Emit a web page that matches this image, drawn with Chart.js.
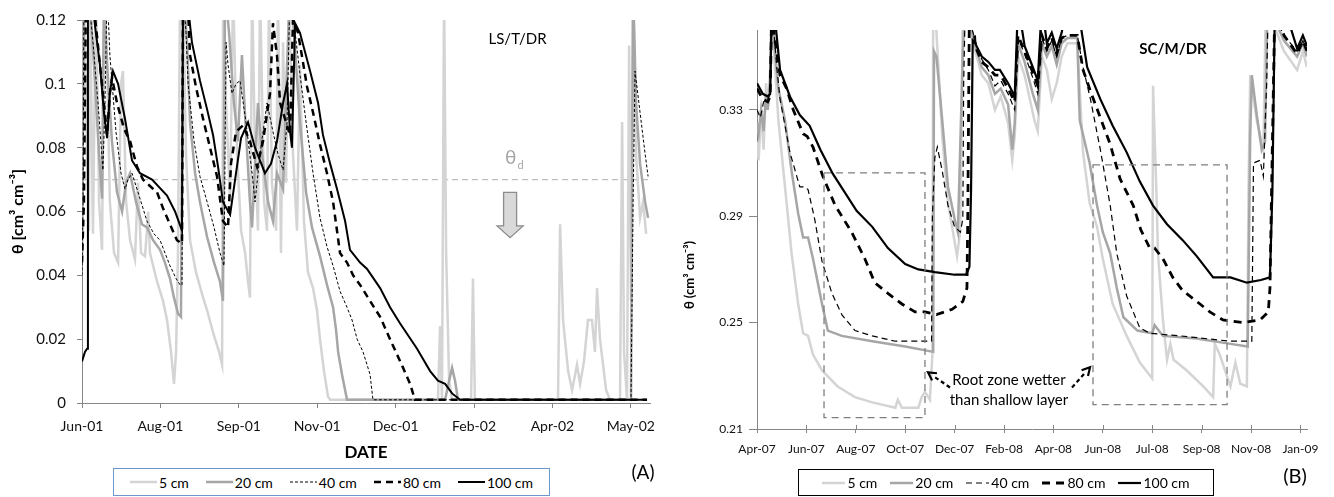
<!DOCTYPE html>
<html>
<head>
<meta charset="utf-8">
<script src="https://cdn.jsdelivr.net/npm/chart.js@4.4.1/dist/chart.umd.min.js"></script>
<style>
  body { margin: 0; background: #fff; width: 1334px; height: 497px; position: relative; overflow: hidden; }
  canvas { position: absolute; top: 0; }
  #chartA { left: 0; }
  #chartB { left: 677px; }
  .legend { position: absolute; box-sizing: border-box; display: flex; align-items: center; justify-content: center;
            font-family: Lato, "Open Sans", sans-serif; font-size: 14px; color: #000; background: #fff; }
  .legend .item { display: flex; align-items: center; }
  .legend svg { display: block; margin-right: 2px; }
</style>
</head>
<body>
<canvas id="chartA" width="670" height="497"></canvas>
<canvas id="chartB" width="657" height="497"></canvas>
<div id="legendA" class="legend" style="left:113px;top:468px;width:437px;height:28px;border:1px solid #6f97cf;"></div>
<div id="legendB" class="legend" style="left:798px;top:469px;width:416px;height:27px;border:1px solid #000;"></div>
<script>
const FONT = "Lato, 'Open Sans', sans-serif";
const DEPTHS = ["5 cm", "20 cm", "40 cm", "80 cm", "100 cm"];

// Panel A: x = days since Jun-01 (tick every 45 days), y = theta
const A_TICK_DAYS = [0, 45, 90, 135, 180, 225, 270, 315];
const A_TICK_LABELS = ["Jun-01", "Aug-01", "Sep-01", "Nov-01", "Dec-01", "Feb-02", "Apr-02", "May-02"];
const A_Y_TICKS = [0, 0.02, 0.04, 0.06, 0.08, 0.1, 0.12];
const A_THETA_D = 0.07;

const A_5CM = [[0,0.044],[1.1,0.13],[2.9,0.078],[4,0.054],[4.6,0.13],[6.3,0.053],[8,0.13],[9.8,0.063],[11.5,0.048],
  [12.6,0.116],[14.4,0.106],[16,0.063],[18.4,0.047],[20.7,0.044],[22.4,0.1],[23.5,0.104],[25.3,0.063],[27.6,0.051],
  [30.4,0.045],[32.1,0.069],[33.9,0.047],[36.2,0.046],[38,0.06],[39,0.047],[43.1,0.038],[46.5,0.032],[48.8,0.026],
  [51.1,0.016],[52.8,0.006],[54,0.016],[55.1,0.047],[56.3,0.13],[58,0.13],[59.7,0.078],[62,0.051],[65.4,0.041],
  [69.5,0.033],[71.8,0.029],[75.8,0.021],[78.7,0.016],[80.4,0.012],[81,0.13],[82.7,0.094],[85,0.063],[86.7,0.13],
  [89,0.078],[91.3,0.054],[93.6,0.047],[95.3,0.038],[96.4,0.033],[97.6,0.13],[99.3,0.078],[101,0.054],[102.2,0.13],
  [104.5,0.063],[106.2,0.054],[107.3,0.13],[109,0.069],[111.4,0.054],[112.5,0.13],[114.2,0.047],[115.4,0.113],
  [117.1,0.069],[118.8,0.13],[121.1,0.078],[123.4,0.054],[125.1,0.106],[127.4,0.057],[129.7,0.041],[132.6,0.036],
  [134.9,0.029],[136.6,0.02],[138.9,0.01],[141.2,0.002],[142.4,0.001],[204.3,0.001],[205.5,0.024],[206.6,0.001],
  [207.2,0.063],[207.8,0.13],[209,0.047],[210.7,0.007],[212.4,0.001],[223.3,0.001],[224.4,0.039],[225.5,0.001],
  [273.2,0.001],[274.4,0.056],[276.1,0.026],[279,0.01],[281.3,0.004],[284.1,0.012],[285.9,0.006],[288.1,0.013],
  [290.4,0.026],[292.7,0.026],[294.4,0.016],[295.6,0.036],[297.3,0.02],[300.8,0.004],[303.1,0.001],[308.8,0.001],
  [310,0.088],[311.1,0.016],[312.8,0.001],[314,0.112],[315.1,0.032],[316.3,0.13],[318,0.078],[320.3,0.058],
  [322,0.063],[323.8,0.053]];
const A_20CM = [[0,0.047],[1.1,0.13],[4,0.13],[6.9,0.106],[9.8,0.078],[11.5,0.064],[12.6,0.13],[14.4,0.106],
  [17.2,0.082],[20.1,0.066],[23,0.06],[25.3,0.069],[27.6,0.072],[31,0.063],[34.4,0.056],[37.3,0.055],[40.8,0.051],
  [44.8,0.048],[47.6,0.044],[50.5,0.039],[52.8,0.033],[55.1,0.028],[56.8,0.027],[58,0.13],[60.3,0.113],[62,0.088],
  [64.9,0.072],[67.7,0.063],[71.8,0.052],[75.8,0.044],[79.2,0.038],[80.9,0.032],[82.1,0.13],[84.4,0.116],
  [87.2,0.094],[89.5,0.082],[91.8,0.109],[94.1,0.085],[96.4,0.063],[97.6,0.055],[99.3,0.075],[101,0.094],
  [103.3,0.078],[106.8,0.063],[109.6,0.057],[111.9,0.072],[115.4,0.067],[117.7,0.106],[119.4,0.13],[121.7,0.116],
  [125.1,0.088],[128.6,0.066],[132,0.055],[136.6,0.046],[140.6,0.037],[144.1,0.03],[145.8,0.023],[147,0.016],
  [149.2,0.009],[152.1,0.001],[208.4,0.001],[210.7,0.007],[212.4,0.011],[214.1,0.007],[215.8,0.001],[315.1,0.001],
  [316.3,0.13],[318,0.094],[320.3,0.075],[323.2,0.063],[324.9,0.058]];
const A_40CM = [[0,0.04],[0.6,0.063],[1.1,0.13],[3.4,0.13],[6.3,0.113],[9.2,0.094],[12,0.073],[13.2,0.094],
  [14.4,0.13],[16,0.109],[19.5,0.085],[22.4,0.072],[24.7,0.067],[26.4,0.07],[28.7,0.072],[33.3,0.064],[37.3,0.057],
  [41.3,0.053],[44.8,0.051],[50.5,0.043],[54,0.039],[56.3,0.037],[57.4,0.037],[58,0.13],[59.7,0.116],[60.9,0.1],
  [64.3,0.082],[67.7,0.071],[71.8,0.063],[75.8,0.055],[79.2,0.047],[81.5,0.043],[82.7,0.113],[83.8,0.106],
  [86.1,0.097],[88.4,0.1],[90.7,0.101],[94.1,0.088],[97.6,0.072],[99.3,0.063],[102.2,0.078],[106.2,0.094],
  [109.6,0.085],[112.5,0.078],[115.4,0.073],[117.7,0.088],[119.4,0.13],[121.7,0.119],[125.1,0.103],[128.6,0.088],
  [132.6,0.072],[136.6,0.058],[140.6,0.049],[144.1,0.043],[148.1,0.035],[152.1,0.03],[155,0.026],[157.9,0.02],
  [161.3,0.016],[165.3,0.009],[167,0.001],[315.1,0.001],[316.3,0.063],[317.4,0.104],[320.3,0.091],[323.2,0.078],
  [324.9,0.071]];
const A_80CM = [[0,0.044],[1.1,0.063],[2.3,0.13],[5.7,0.13],[8.6,0.115],[12,0.097],[14.4,0.084],[16,0.097],
  [17.2,0.102],[20.1,0.094],[24.1,0.086],[27.6,0.082],[31.6,0.074],[35,0.07],[39,0.068],[43.1,0.066],[46.5,0.061],
  [50.5,0.056],[54.5,0.051],[57.4,0.05],[58,0.13],[60.3,0.13],[62,0.109],[65.4,0.099],[69.5,0.089],[73.5,0.08],
  [77.5,0.071],[80.9,0.057],[83.8,0.055],[85.5,0.075],[88.4,0.085],[92.4,0.087],[96.4,0.082],[100.5,0.074],
  [103.9,0.082],[107.9,0.097],[109.6,0.119],[111.9,0.109],[113.7,0.094],[117.1,0.088],[119.4,0.084],[121.1,0.12],
  [124,0.116],[129.2,0.099],[132.6,0.091],[136.6,0.081],[140.6,0.072],[144.1,0.063],[148.1,0.047],[152.1,0.044],
  [155.6,0.04],[159.6,0.037],[165.3,0.032],[171.1,0.027],[176.8,0.02],[184.3,0.011],[188.3,0.006],[191.1,0.001],
  [324.3,0.001]];
const A_100CM = [[0,0.013],[1.7,0.016],[2.9,0.017],[3.4,0.13],[5.2,0.13],[7.5,0.118],[10.3,0.106],[12.6,0.091],
  [14.4,0.083],[16,0.097],[17.8,0.104],[20.7,0.1],[24.7,0.089],[28.7,0.076],[33.3,0.072],[40.2,0.07],[48.8,0.065],
  [53.4,0.06],[57.4,0.054],[58,0.13],[59.7,0.13],[63.1,0.113],[67.7,0.101],[71.8,0.092],[75.2,0.084],[78.1,0.074],
  [80.9,0.063],[85,0.059],[88.4,0.072],[91.3,0.083],[95.3,0.088],[99.3,0.08],[105,0.072],[108.5,0.075],
  [111.9,0.082],[115.4,0.094],[117.7,0.1],[119.4,0.085],[120.5,0.08],[122.3,0.119],[125.1,0.116],[130.9,0.104],
  [135.5,0.094],[138.3,0.084],[142.4,0.075],[146.4,0.067],[151,0.057],[153.8,0.048],[159.6,0.044],[163.6,0.042],
  [171.1,0.036],[176.8,0.03],[182.5,0.025],[192.3,0.017],[199.8,0.01],[204.3,0.007],[208.4,0.006],[212.4,0.003],
  [217,0.001],[324.3,0.001]];

// Panel B: x = days since Apr-07 (tick every 60 days), y = theta
const B_TICK_DAYS = [0, 60, 120, 180, 240, 300, 360, 420, 480, 540, 600, 660];
const B_TICK_LABELS = ["Apr-07", "Jun-07", "Aug-07", "Oct-07", "Dec-07", "Feb-08", "Apr-08", "Jun-08", "Jul-08", "Sep-08", "Nov-08", "Jan-09"];
const B_Y_TICKS = [0.21, 0.25, 0.29, 0.33];

const B_5CM = [[0,0.318],[2,0.311],[5,0.33],[8,0.315],[11,0.34],[13,0.33],[16,0.345],[18,0.37],[21,0.35],[26,0.326],
  [34,0.301],[42,0.276],[50,0.257],[56,0.246],[62,0.245],[68,0.238],[79,0.232],[98,0.226],[119,0.222],[140,0.22],
  [168,0.218],[171,0.221],[176,0.218],[196,0.218],[200,0.222],[204,0.224],[210,0.221],[213,0.238],[214,0.37],
  [216,0.37],[225,0.32],[232,0.295],[243,0.275],[247,0.285],[250,0.37],[265,0.352],[273,0.343],[281,0.34],
  [289,0.33],[296,0.335],[305,0.325],[310,0.311],[313,0.32],[317,0.35],[325,0.343],[337,0.326],[341,0.322],
  [346,0.35],[352,0.345],[358,0.334],[364,0.34],[370,0.35],[377,0.355],[389,0.355],[396,0.314],[404,0.295],
  [413,0.286],[420,0.274],[432,0.257],[449,0.245],[465,0.235],[480,0.229],[481,0.339],[485,0.3],[487,0.276],
  [493,0.251],[498,0.236],[502,0.242],[506,0.236],[522,0.232],[542,0.226],[554,0.222],[556,0.242],[562,0.238],
  [575,0.226],[581,0.235],[587,0.227],[595,0.226],[597,0.3],[599,0.343],[607,0.326],[615,0.315],[618,0.37],
  [640,0.352],[656,0.345],[663,0.352],[668,0.346]];
const B_20CM = [[0,0.325],[2,0.321],[5,0.33],[8,0.322],[11,0.336],[13,0.33],[16,0.34],[18,0.37],[21,0.355],
  [26,0.338],[34,0.326],[42,0.307],[50,0.291],[56,0.282],[62,0.282],[68,0.274],[79,0.257],[86,0.247],[103,0.245],
  [140,0.243],[180,0.241],[214,0.239],[215,0.352],[218,0.35],[225,0.326],[232,0.301],[240,0.289],[244,0.284],
  [250,0.352],[253,0.37],[265,0.354],[273,0.346],[281,0.343],[289,0.336],[296,0.338],[305,0.332],[310,0.315],
  [313,0.325],[317,0.355],[325,0.348],[335,0.336],[341,0.33],[346,0.355],[352,0.35],[358,0.354],[364,0.347],
  [370,0.355],[377,0.357],[389,0.357],[392,0.326],[404,0.31],[413,0.294],[420,0.284],[429,0.276],[437,0.263],
  [445,0.252],[462,0.247],[480,0.246],[483,0.249],[493,0.245],[534,0.244],[575,0.242],[596,0.241],[599,0.32],
  [601,0.343],[607,0.328],[613,0.315],[617,0.318],[620,0.37],[640,0.356],[656,0.35],[663,0.355],[668,0.35]];
const B_40CM = [[0,0.33],[4,0.327],[8,0.333],[13,0.334],[16,0.336],[18,0.37],[21,0.358],[24,0.346],[28,0.334],
  [40,0.314],[52,0.301],[58,0.301],[62,0.3],[70,0.289],[79,0.273],[91,0.261],[103,0.253],[119,0.247],[140,0.245],
  [168,0.243],[200,0.243],[212,0.243],[213,0.29],[216,0.312],[219,0.316],[225,0.307],[232,0.294],[240,0.286],
  [247,0.284],[250,0.289],[251,0.34],[253,0.37],[265,0.356],[273,0.349],[281,0.345],[289,0.339],[296,0.341],
  [305,0.336],[313,0.33],[317,0.357],[325,0.351],[335,0.342],[341,0.336],[346,0.357],[352,0.352],[358,0.356],
  [364,0.35],[370,0.357],[377,0.358],[389,0.358],[396,0.346],[405,0.334],[417,0.315],[429,0.294],[437,0.276],
  [449,0.26],[465,0.248],[477,0.246],[514,0.245],[575,0.243],[601,0.243],[603,0.31],[611,0.311],[615,0.305],
  [619,0.34],[621,0.37],[640,0.358],[656,0.352],[663,0.356],[668,0.352]];
const B_80CM = [[0,0.338],[7,0.334],[13,0.333],[16,0.335],[18,0.37],[21,0.358],[28,0.343],[36,0.338],[44,0.33],
  [56,0.321],[61,0.32],[68,0.316],[80,0.305],[95,0.294],[115,0.284],[131,0.274],[143,0.265],[159,0.261],
  [176,0.257],[192,0.254],[204,0.254],[218,0.253],[237,0.255],[250,0.258],[255,0.263],[256,0.29],[258,0.37],
  [262,0.37],[265,0.354],[273,0.348],[281,0.346],[289,0.343],[296,0.343],[305,0.338],[313,0.333],[317,0.358],
  [325,0.352],[335,0.344],[341,0.339],[346,0.358],[352,0.353],[358,0.357],[364,0.351],[370,0.357],[377,0.358],
  [389,0.358],[396,0.345],[405,0.337],[417,0.327],[429,0.317],[441,0.304],[457,0.294],[466,0.285],[477,0.278],
  [483,0.278],[493,0.274],[505,0.267],[517,0.262],[534,0.258],[550,0.254],[566,0.251],[590,0.25],[611,0.251],
  [621,0.254],[623,0.263],[625,0.3],[629,0.37],[640,0.358],[656,0.351],[663,0.356],[668,0.352]];
const B_100CM = [[0,0.34],[7,0.336],[13,0.335],[16,0.336],[18,0.37],[20,0.37],[28,0.345],[40,0.335],[52,0.328],
  [64,0.324],[77,0.315],[92,0.306],[121,0.292],[140,0.286],[159,0.278],[180,0.272],[196,0.27],[216,0.269],
  [240,0.268],[254,0.268],[258,0.271],[260,0.3],[262,0.356],[265,0.355],[273,0.35],[281,0.348],[289,0.345],
  [295,0.345],[305,0.34],[313,0.335],[317,0.37],[325,0.354],[335,0.346],[341,0.341],[346,0.37],[352,0.355],
  [358,0.359],[364,0.353],[370,0.359],[377,0.37],[389,0.37],[401,0.346],[417,0.334],[432,0.324],[449,0.314],
  [465,0.303],[481,0.294],[498,0.287],[517,0.281],[534,0.275],[554,0.267],[575,0.267],[595,0.265],[612,0.266],
  [623,0.267],[626,0.3],[629,0.37],[639,0.37],[656,0.353],[663,0.358],[668,0.354]];

// line looks per depth, panel A and B
const STYLE_A = [
  { color: "#d4d4d4", width: 2.5, dash: [] },
  { color: "#a6a6a6", width: 2.5, dash: [] },
  { color: "#000", width: 1, dash: [3, 2] },
  { color: "#000", width: 2.5, dash: [7, 5] },
  { color: "#000", width: 2, dash: [] }
];
const STYLE_B = [
  { color: "#d4d4d4", width: 2.5, dash: [] },
  { color: "#a6a6a6", width: 2.5, dash: [] },
  { color: "#000", width: 1.2, dash: [6, 4] },
  { color: "#000", width: 2.8, dash: [8, 6] },
  { color: "#000", width: 2.2, dash: [] }
];

function toXY(pairs) {
  return pairs.map(([x, y]) => ({ x, y }));
}

function buildSets(seriesList, styles) {
  return seriesList.map((s, i) => ({
    label: DEPTHS[i],
    data: toXY(s),
    borderColor: styles[i].color,
    borderWidth: styles[i].width,
    borderDash: styles[i].dash,
    order: seriesList.length - i,
    pointRadius: 0,
    tension: 0,
    fill: false
  }));
}

function fmtTheta(v) {
  return Number(v.toFixed(2)).toString();
}

/* ANNOTATIONS */

const annotA = {
  id: "annotA",
  afterDraw(chart) {
    const { ctx, scales: { x, y } } = chart;
    ctx.save();
    ctx.textAlign = "center";
    ctx.textBaseline = "middle";
    ctx.fillStyle = "#000";
    ctx.font = "15px " + FONT;
    ctx.fillText("LS/T/DR", x.getPixelForValue(250), y.getPixelForValue(0.1141));

    // theta_d label
    const tx = x.getPixelForValue(246), ty = y.getPixelForValue(0.0769);
    ctx.fillStyle = "#a6a6a6";
    ctx.font = "19px " + FONT;
    ctx.fillText("θ", tx, ty);
    ctx.font = "11px " + FONT;
    ctx.fillText("d", tx + 10, ty + 8);

    // block arrow pointing down
    const ax = x.getPixelForValue(245.7);
    const top = y.getPixelForValue(0.066), neck = y.getPixelForValue(0.0555), tip = y.getPixelForValue(0.0518);
    ctx.beginPath();
    ctx.moveTo(ax - 6.5, top);
    ctx.lineTo(ax + 6.5, top);
    ctx.lineTo(ax + 6.5, neck);
    ctx.lineTo(ax + 13, neck);
    ctx.lineTo(ax, tip);
    ctx.lineTo(ax - 13, neck);
    ctx.lineTo(ax - 6.5, neck);
    ctx.closePath();
    ctx.fillStyle = "#d9d9d9";
    ctx.fill();
    ctx.strokeStyle = "#8c8c8c";
    ctx.lineWidth = 1.3;
    ctx.stroke();

    ctx.fillStyle = "#000";
    ctx.font = "19px " + FONT;
    ctx.fillText("(A)", 643, 473);
    ctx.restore();
  }
};

function dashedArrow(ctx, x0, y0, x1, y1) {
  const ang = Math.atan2(y1 - y0, x1 - x0);
  ctx.save();
  ctx.strokeStyle = "#000";
  ctx.lineWidth = 2.2;
  ctx.setLineDash([4, 3]);
  ctx.beginPath();
  ctx.moveTo(x0, y0);
  ctx.lineTo(x1 - 6 * Math.cos(ang), y1 - 6 * Math.sin(ang));
  ctx.stroke();
  ctx.setLineDash([]);
  ctx.beginPath();
  ctx.moveTo(x1 - 9 * Math.cos(ang - 0.5), y1 - 9 * Math.sin(ang - 0.5));
  ctx.lineTo(x1, y1);
  ctx.lineTo(x1 - 9 * Math.cos(ang + 0.5), y1 - 9 * Math.sin(ang + 0.5));
  ctx.stroke();
  ctx.restore();
}

const annotB = {
  id: "annotB",
  afterDraw(chart) {
    const { ctx, scales: { x, y }, chartArea } = chart;
    ctx.save();

    // inner half of the cross tick marks
    ctx.strokeStyle = "#868686";
    ctx.lineWidth = 1;
    x.ticks.forEach((t) => {
      const px = Math.round(x.getPixelForValue(t.value)) + 0.5;
      ctx.beginPath();
      ctx.moveTo(px, chartArea.bottom);
      ctx.lineTo(px, chartArea.bottom - 4);
      ctx.stroke();
    });

    // dashed boxes
    ctx.strokeStyle = "#7f7f7f";
    ctx.lineWidth = 1.3;
    ctx.setLineDash([7, 5]);
    [[81.4, 204, 0.3063, 0.2143], [408.1, 570.9, 0.3093, 0.2192]].forEach(([d0, d1, v0, v1]) => {
      const l = x.getPixelForValue(d0), r = x.getPixelForValue(d1);
      const t = y.getPixelForValue(v0), b = y.getPixelForValue(v1);
      ctx.strokeRect(l, t, r - l, b - t);
    });
    ctx.setLineDash([]);

    dashedArrow(ctx, x.getPixelForValue(234.4), y.getPixelForValue(0.2256), x.getPixelForValue(207.7), y.getPixelForValue(0.2313));
    dashedArrow(ctx, x.getPixelForValue(382.6), y.getPixelForValue(0.2256), x.getPixelForValue(404.5), y.getPixelForValue(0.2332));

    ctx.fillStyle = "#000";
    ctx.textAlign = "center";
    ctx.textBaseline = "middle";
    ctx.font = "15px " + FONT;
    ctx.fillText("Root zone wetter", x.getPixelForValue(306), y.getPixelForValue(0.2283));
    ctx.fillText("than shallow layer", x.getPixelForValue(306), y.getPixelForValue(0.2207));

    ctx.font = "bold 15px " + FONT;
    ctx.fillText("SC/M/DR", x.getPixelForValue(505.3), y.getPixelForValue(0.3527));

    ctx.font = "20px " + FONT;
    ctx.fillText("(B)", 618, 477);

    // y title, sits lower than the axis centre
    ctx.translate(13, 275);
    ctx.rotate(-Math.PI / 2);
    ctx.font = "bold 13px " + FONT;
    ctx.fillText("θ (cm³ cm⁻³)", 0, 0);
    ctx.restore();
  }
};

/* CHARTS */

const AXIS_GREY = "#868686";

new Chart(document.getElementById("chartA"), {
  type: "line",
  data: {
    datasets: [
      ...buildSets([A_5CM, A_20CM, A_40CM, A_80CM, A_100CM], STYLE_A),
      {
        label: "θd",
        data: [{ x: 0, y: A_THETA_D }, { x: 326, y: A_THETA_D }],
        borderColor: "#bfbfbf",
        borderWidth: 1.3,
        borderDash: [6, 4],
        pointRadius: 0,
        order: 10
      }
    ]
  },
  options: {
    responsive: false,
    animation: false,
    layout: { padding: { top: 16, right: 20, left: 0, bottom: 0 } },
    plugins: { legend: { display: false }, tooltip: { enabled: false } },
    scales: {
      x: {
        type: "linear",
        min: 0,
        max: 326,
        afterBuildTicks: (s) => { s.ticks = A_TICK_DAYS.map((v) => ({ value: v })); },
        afterFit: (s) => { s.height = 94; },
        grid: { drawOnChartArea: false, tickLength: 5, color: AXIS_GREY },
        border: { color: AXIS_GREY },
        ticks: {
          callback: (v, i) => A_TICK_LABELS[i],
          font: { size: 14, family: FONT },
          color: "#111",
          padding: 10,
          maxRotation: 0,
          autoSkip: false
        },
        title: {
          display: true,
          text: "DATE",
          color: "#000",
          font: { size: 17, weight: "bold", family: FONT },
          padding: { top: 0, bottom: 34 }
        }
      },
      y: {
        min: 0,
        max: 0.12,
        afterBuildTicks: (s) => { s.ticks = A_Y_TICKS.map((v) => ({ value: v })); },
        afterFit: (s) => { s.width = 82; },
        grid: { drawOnChartArea: false, tickLength: 5, color: AXIS_GREY },
        border: { color: AXIS_GREY },
        ticks: { callback: fmtTheta, font: { size: 15, family: FONT }, color: "#111", padding: 11 },
        title: {
          display: true,
          text: "θ [cm³ cm⁻³]",
          color: "#000",
          font: { size: 16, weight: "bold", family: FONT },
          padding: { top: 8, bottom: 0 }
        }
      }
    }
  },
  plugins: [annotA]
});

new Chart(document.getElementById("chartB"), {
  type: "line",
  data: { datasets: buildSets([B_5CM, B_20CM, B_40CM, B_80CM, B_100CM], STYLE_B) },
  options: {
    responsive: false,
    animation: false,
    layout: { padding: { top: 30, right: 27, left: 0, bottom: 0 } },
    plugins: { legend: { display: false }, tooltip: { enabled: false } },
    scales: {
      x: {
        type: "linear",
        min: 0,
        max: 668,
        afterBuildTicks: (s) => { s.ticks = B_TICK_DAYS.map((v) => ({ value: v })); },
        afterFit: (s) => { s.height = 68; },
        grid: { drawOnChartArea: false, tickLength: 4, color: AXIS_GREY },
        border: { color: AXIS_GREY },
        ticks: {
          callback: (v, i) => B_TICK_LABELS[i],
          font: { size: 12, family: FONT },
          color: "#111",
          padding: 9,
          maxRotation: 0,
          autoSkip: false
        }
      },
      y: {
        min: 0.21,
        max: 0.36,
        afterBuildTicks: (s) => { s.ticks = B_Y_TICKS.map((v) => ({ value: v })); },
        afterFit: (s) => { s.width = 80; },
        grid: { drawOnChartArea: false, tickLength: 8, color: AXIS_GREY },
        border: { color: AXIS_GREY },
        ticks: { callback: fmtTheta, font: { size: 12, family: FONT }, color: "#111", padding: 6 }
      }
    }
  },
  plugins: [annotB]
});

/* LEGENDS */

function renderLegend(id, styles, sampleW, gap) {
  const box = document.getElementById(id);
  DEPTHS.forEach((name, i) => {
    const st = styles[i];
    const item = document.createElement("div");
    item.className = "item";
    item.style.marginRight = i < DEPTHS.length - 1 ? gap + "px" : "0";
    item.innerHTML = `
      <svg width="${sampleW}" height="10"><line x1="0" y1="5" x2="${sampleW}" y2="5"
        stroke="${st.color}" stroke-width="${st.width}" stroke-dasharray="${st.dash.join(",") || "none"}"/></svg>
      <span>${name}</span>`;
    box.appendChild(item);
  });
}

renderLegend("legendA", STYLE_A, 27, 17);
renderLegend("legendB", STYLE_B, 23, 13);
</script>
</body>
</html>
